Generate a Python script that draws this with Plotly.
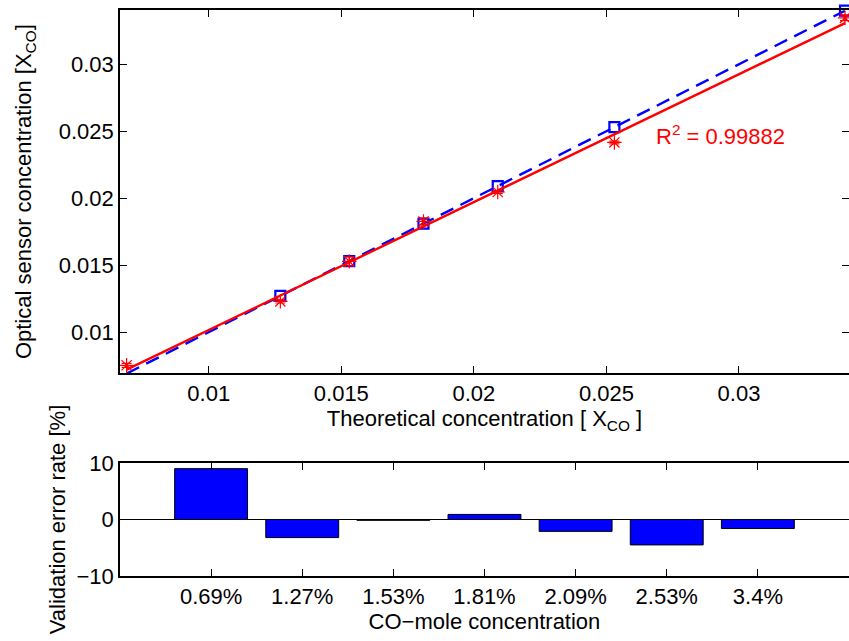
import numpy as np
import plotly.graph_objects as go

# Theoretical CO mole fractions and optical sensor readings
theoretical = [0.0069, 0.0127, 0.0153, 0.0181, 0.0209, 0.0253, 0.0340]
reference_line = [0.0069, 0.0127, 0.0153, 0.0181, 0.0209, 0.0253, 0.0340]
measured = [0.00752, 0.01229, 0.01528, 0.01826, 0.02046, 0.02416, 0.03346]
measured_err = [0.00015, 0.00012, 0.00033, 0.00026, 0.00010, 0.00010, 0.00020]

# Validation error per concentration step [%]
conc_labels = ["0.69%", "1.27%", "1.53%", "1.81%", "2.09%", "2.53%", "3.4%"]
error_rate = [9.0, -3.2, -0.15, 0.9, -2.1, -4.5, -1.6]

r2_text = "R<sup>2</sup> = 0.99882"

FONT = "Liberation Sans, Arial, Helvetica, sans-serif"
FS = 22

# Linear fit of sensor readings
coef = np.polyfit(theoretical, measured, 1)
fit_x = np.array([min(theoretical), max(theoretical)])
fit_y = np.polyval(coef, fit_x)

fig = go.Figure()

fig.add_trace(go.Scatter(
    x=theoretical, y=reference_line, mode="lines+markers",
    line=dict(color="#0000ff", width=2.4, dash="14px,8px"),
    marker=dict(symbol="square-open", size=10, color="#0000ff",
                line=dict(color="#0000ff", width=2.2)),
    xaxis="x", yaxis="y", showlegend=False, cliponaxis=False,
))
fig.add_trace(go.Scatter(
    x=fit_x, y=fit_y, mode="lines",
    line=dict(color="#ff0000", width=2.4),
    xaxis="x", yaxis="y", showlegend=False, cliponaxis=False,
))
fig.add_trace(go.Scatter(
    x=theoretical, y=measured, mode="markers",
    marker=dict(symbol="asterisk-open", size=12, color="#ff0000",
                line=dict(color="#ff0000", width=1.2)),
    error_y=dict(type="data", array=measured_err, color="#ff0000",
                 thickness=1.2, width=5),
    xaxis="x", yaxis="y", showlegend=False, cliponaxis=False,
))

fig.add_trace(go.Bar(
    x=list(range(1, len(error_rate) + 1)), y=error_rate, width=0.8,
    marker=dict(color="#0000ff", line=dict(color="black", width=1)),
    xaxis="x2", yaxis="y2", showlegend=False,
))

axis_common = dict(
    showline=True, linecolor="black", linewidth=1.5, mirror="ticks",
    ticks="inside", ticklen=7, tickcolor="black", tickwidth=1,
    showgrid=False, zeroline=False, automargin=False,
    tickfont=dict(family=FONT, size=FS, color="black"),
)

fig.update_layout(
    width=849, height=641,
    margin=dict(l=0, r=0, t=0, b=0, autoexpand=False),
    paper_bgcolor="white", plot_bgcolor="white",
    font=dict(family=FONT, size=FS, color="black"),
    xaxis=dict(
        axis_common, domain=[0.1413, 1.0], anchor="y",
        range=[0.00665, 0.03415],
        tickvals=[0.01, 0.015, 0.02, 0.025, 0.03],
        ticktext=["0.01", "0.015", "0.02", "0.025", "0.03"],
        title=dict(text="Theoretical concentration [ X<sub>CO</sub> ]",
                   standoff=0, font=dict(size=FS)),
    ),
    yaxis=dict(
        axis_common, domain=[0.418, 0.984], anchor="x",
        range=[0.00694, 0.03403],
        tickvals=[0.01, 0.015, 0.02, 0.025, 0.03],
        ticktext=["0.01", "0.015", "0.02", "0.025", "0.03"],
        title=dict(text="Optical sensor concentration [X<sub>CO</sub>]",
                   standoff=21, font=dict(size=FS)),
    ),
    xaxis2=dict(
        axis_common, domain=[0.1413, 1.0], anchor="y2",
        range=[0, 8],
        tickvals=list(range(1, len(conc_labels) + 1)),
        ticktext=conc_labels,
        title=dict(text="CO\u2212mole concentration", standoff=2,
                   font=dict(size=FS)),
    ),
    yaxis2=dict(
        axis_common, domain=[0.1014, 0.2777], anchor="x2",
        range=[-10, 10], tickvals=[-10, 0, 10],
        ticktext=["\u221210", "0", "10"],
        zeroline=True, zerolinecolor="black", zerolinewidth=1,
        title=dict(text="Validation error rate [%]", standoff=5,
                   font=dict(size=FS)),
    ),
    annotations=[dict(
        x=0.0268, y=0.0247, xref="x", yref="y", text=r2_text,
        showarrow=False, xanchor="left", yanchor="middle",
        font=dict(family=FONT, size=FS, color="#ff0000"),
    )],
)

fig.write_html("out.html")
